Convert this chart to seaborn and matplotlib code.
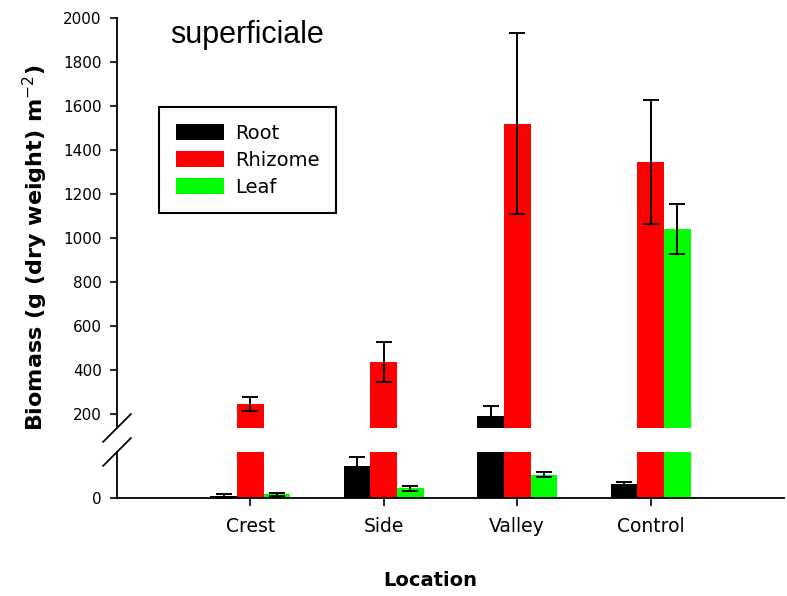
import numpy as np
import pandas as pd
import matplotlib
matplotlib.use("Agg")
import matplotlib.pyplot as plt
import seaborn as sns

# values (g dry weight m-2)
locations = ["Crest", "Side", "Valley", "Control"]
tissues = ["Root", "Rhizome", "Leaf"]
root = [4, 70, 191, 30]
root_err = [5, 20, 45, 5]
rhizome = [245, 436, 1520, 1345]
rhizome_err = [30, 90, 410, 280]
leaf = [8, 21, 51, 1040]
leaf_err = [3, 6, 5, 115]
colors = ["#000000", "#ff0000", "#00ff00"]
upper_ticks = [200, 400, 600, 800, 1000, 1200, 1400, 1600, 1800, 2000]

df = pd.DataFrame({
    "Location": locations * 3,
    "Tissue": [t for t in tissues for _ in locations],
    "Biomass": root + rhizome + leaf,
})
errs = [root_err, rhizome_err, leaf_err]

sns.set_style("ticks")
plt.rcParams["font.family"] = ["DejaVu Sans"]
plt.rcParams["axes.linewidth"] = 1.3
for k in ["text.color", "axes.labelcolor", "xtick.color", "ytick.color", "axes.edgecolor"]:
    plt.rcParams[k] = "black"

W, H = 787, 596
fig = plt.figure(figsize=(W / 100, H / 100), dpi=100)
left, right = 117, 784
ax_top = fig.add_axes([left / W, 1 - 428 / H, (right - left) / W, (428 - 18) / H])
ax_bot = fig.add_axes([left / W, 1 - 498 / H, (right - left) / W, (498 - 452) / H])

for ax in (ax_top, ax_bot):
    sns.barplot(data=df, x="Location", y="Biomass", hue="Tissue", order=locations,
                hue_order=tissues, palette=colors, width=0.6, saturation=1,
                errorbar=None, linewidth=0, ax=ax, legend=(ax is ax_top))
    for cont, e in zip(ax.containers, errs):
        xs = [b.get_x() + b.get_width() / 2 for b in cont]
        ys = [b.get_height() for b in cont]
        ax.errorbar(xs, ys, yerr=e, fmt="none", ecolor="black",
                    elinewidth=1.4, capsize=5.5, capthick=1.4)
    ax.set_xlim(-1, 4)
    ax.set_xlabel("")
    ax.set_ylabel("")
    for s in ["top", "right"]:
        ax.spines[s].set_visible(False)

ax_top.set_ylim(136, 2000)
ax_top.set_yticks(upper_ticks)
ax_top.spines["bottom"].set_visible(False)
ax_top.tick_params(axis="x", bottom=False, labelbottom=False)
ax_top.tick_params(axis="y", length=5, width=1.2, pad=6, labelsize=11)

ax_bot.set_ylim(0, 100)
ax_bot.set_yticks([0])
ax_bot.tick_params(axis="y", length=5, width=1.2, pad=6, labelsize=11)
ax_bot.tick_params(axis="x", length=5.5, width=1.2, pad=8, labelsize=13.5)

# break marks on the y axis
dx = 14 / (right - left)
kw = dict(color="black", lw=1.3, clip_on=False)
ax_top.plot([-dx, dx], [-14 / 410, 14 / 410], transform=ax_top.transAxes, **kw)
ax_bot.plot([-dx, dx], [1 - 14 / 46, 1 + 14 / 46], transform=ax_bot.transAxes, **kw)

# legend
handles, labels = ax_top.get_legend_handles_labels()
ax_top.get_legend().remove()
leg = fig.legend(handles, labels, loc="upper left", bbox_to_anchor=(159 / W, 1 - 107 / H),
                 borderaxespad=0, fontsize=14, handlelength=2.5, handleheight=0.85,
                 handletextpad=0.55, labelspacing=0.42, borderpad=0.85,
                 fancybox=False, framealpha=1, edgecolor="black")
leg.get_frame().set_linewidth(1.5)

fig.text(170 / W, 1 - 43 / H, "superficiale", fontsize=22, family="Liberation Sans",
         ha="left", va="baseline")
fig.text(430 / W, 1 - 581 / H, "Location", fontsize=14, fontweight="bold",
         ha="center", va="center")
fig.text(35 / W, 1 - 248 / H, "Biomass (g (dry weight) m$^{-2}$)", fontsize=16,
         fontweight="bold", rotation=90, ha="center", va="center")

fig.savefig("out.png", dpi=100)
